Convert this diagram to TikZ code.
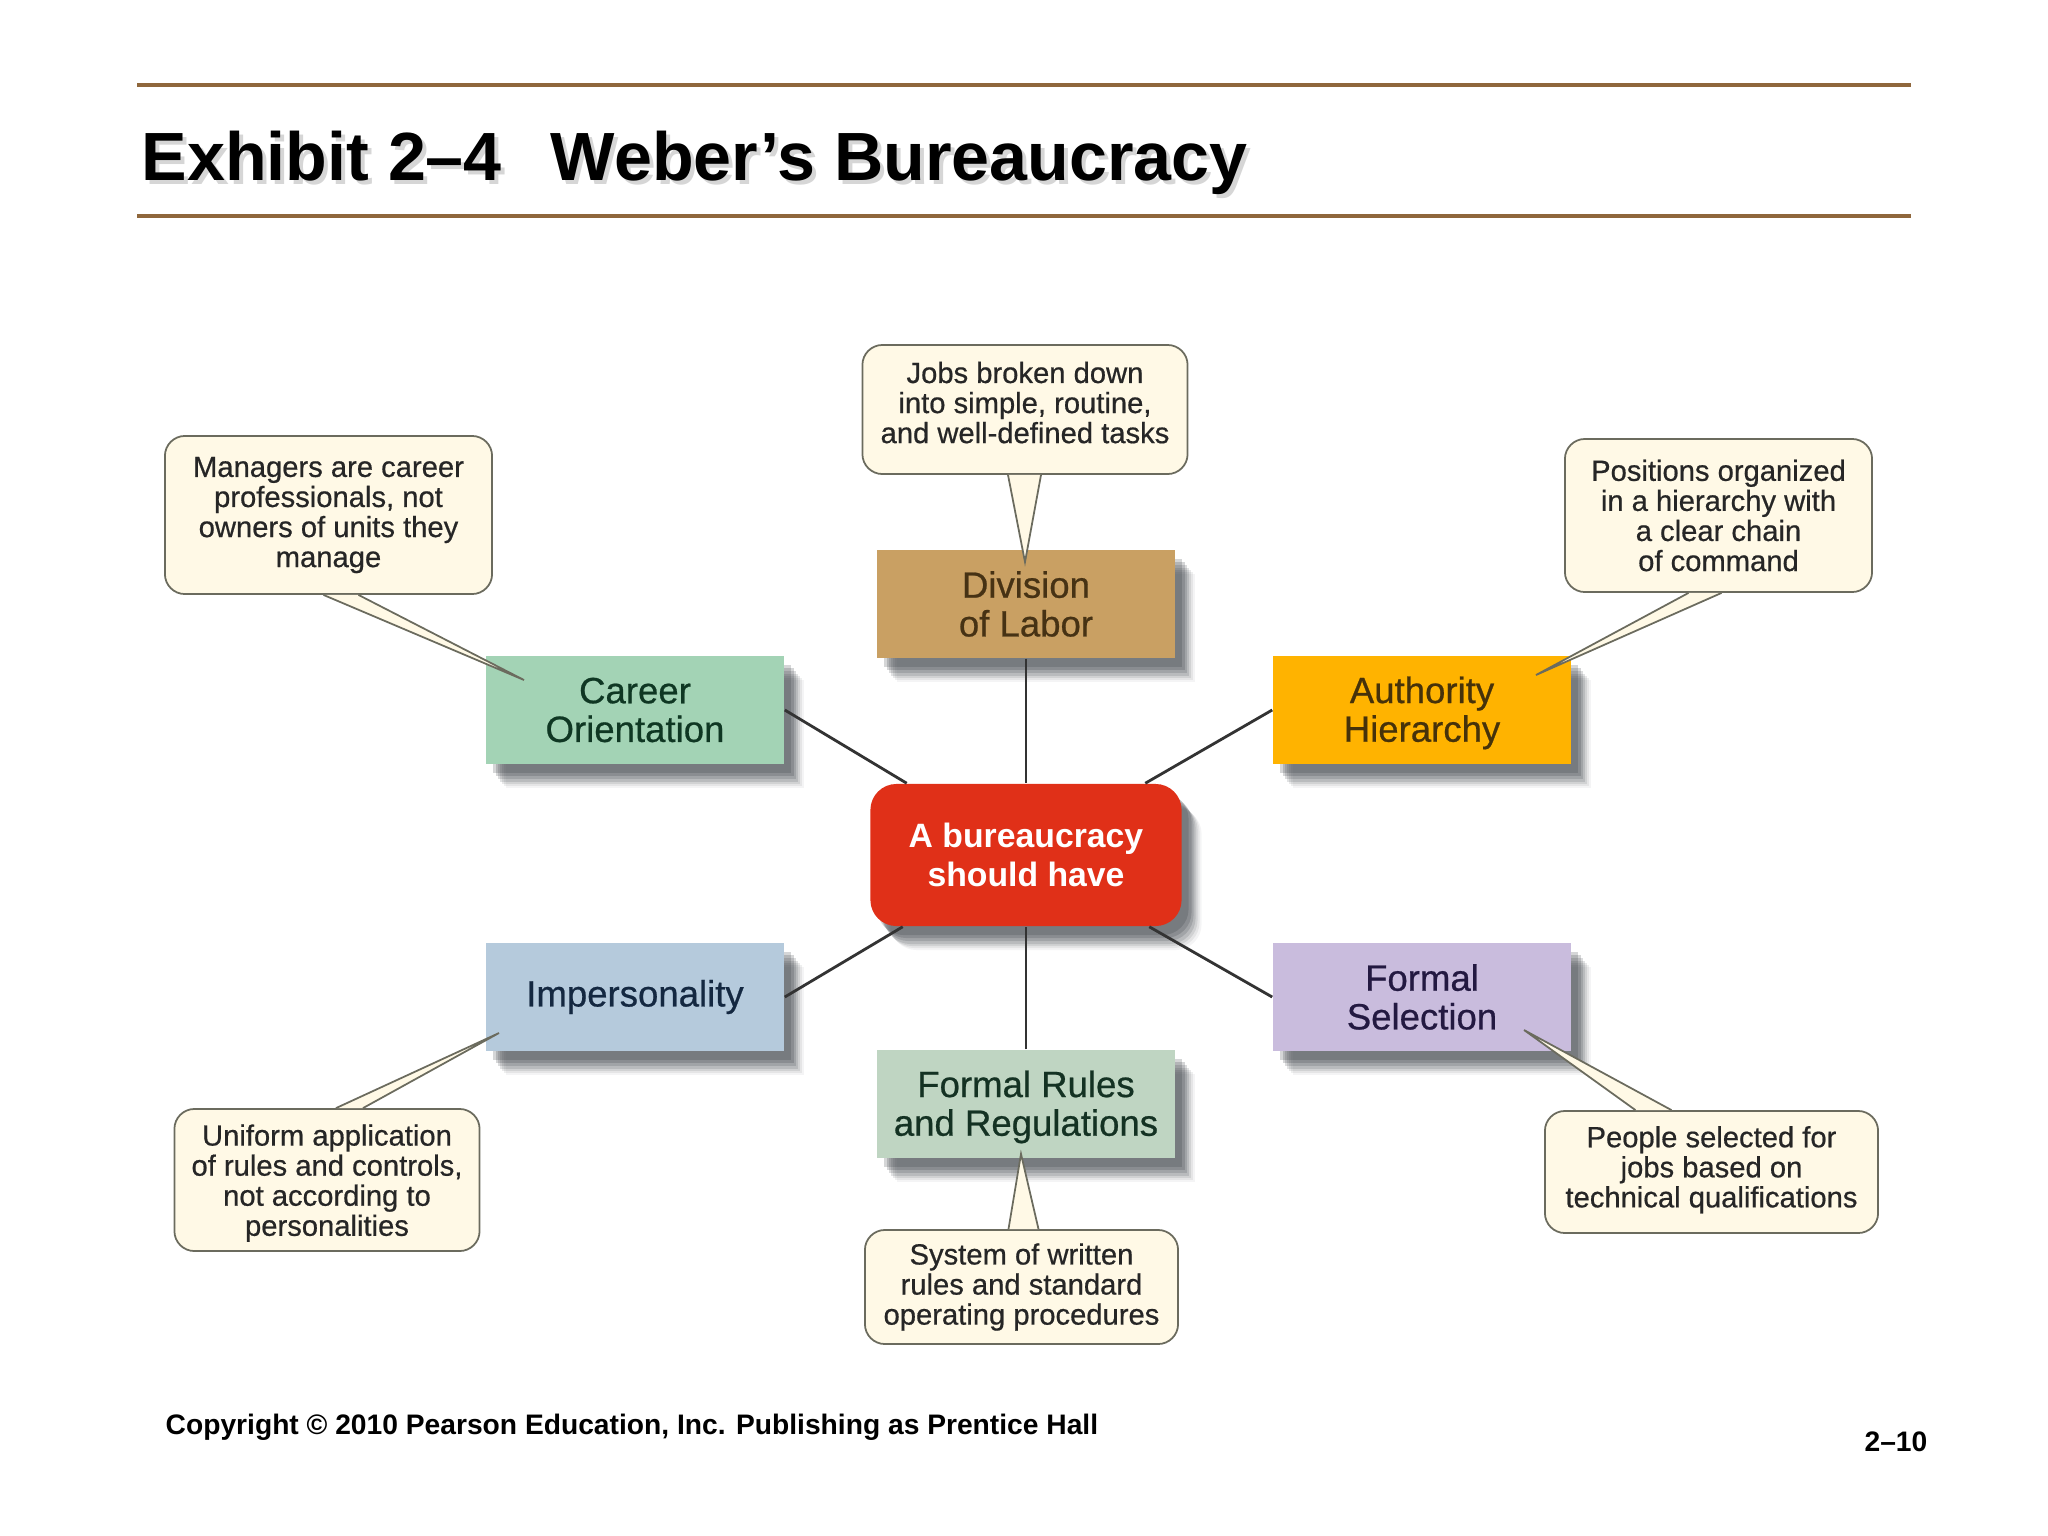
\documentclass[tikz,border=0pt]{standalone}
\usepackage{xcolor}
\usepackage{fontspec}
\setmainfont{Liberation Sans}
\newfontfamily\heavyfont[FakeBold=.6]{Liberation Sans}
\usepackage{tikz}
\usetikzlibrary{shadows}

\definecolor{rulebrown}{HTML}{8F673C}
\definecolor{creamfill}{HTML}{FFF9E6}
\definecolor{tailgrey}{HTML}{6B6B5E}
\definecolor{shadeblue}{HTML}{2C3138}
\newcommand{\liftup}[1]{\rule[-#1]{0pt}{#1}}
\newcommand{\dropdown}[1]{\rule{0pt}{#1}}

\begin{document}
\begin{tikzpicture}[x=.01cm, y=-.01cm]
        \tikzset{
            softshadow/.style={
                drop shadow={shadow xshift=.20cm, shadow yshift=-.24cm, opacity=.05, fill=shadeblue},
                drop shadow={shadow xshift=.18cm, shadow yshift=-.22cm, opacity=.08, fill=shadeblue},
                drop shadow={shadow xshift=.16cm, shadow yshift=-.20cm, opacity=.11, fill=shadeblue},
                drop shadow={shadow xshift=.14cm, shadow yshift=-.18cm, opacity=.14, fill=shadeblue},
                drop shadow={shadow xshift=.12cm, shadow yshift=-.15cm, opacity=.17, fill=shadeblue},
                drop shadow={shadow xshift=.10cm, shadow yshift=-.12cm, opacity=.2, fill=shadeblue},
                drop shadow={shadow xshift=.07cm, shadow yshift=-.09cm, opacity=.2, fill=shadeblue},
            },
            topicbox/.style={
                softshadow,
                minimum width=2.98cm,
                minimum height=1.08cm,
                inner sep=0pt,
                align=center,
                font=\heavyfont\fontsize{10.4pt}{11pt}\selectfont,
            },
            callout/.style={
                draw=tailgrey,
                fill=creamfill,
                line width=.5pt,
                rounded corners=.2cm,
                inner sep=0pt,
                align=center,
                text=black!85,
                font=\heavyfont\fontsize{8.3pt}{8.55pt}\selectfont,
            },
            calltail/.style={draw=tailgrey, fill=creamfill, line width=.5pt},
            spoke/.style={draw=black!80, line width=.8pt},
            headrule/.style={draw=rulebrown, line width=.04cm},
        }
        \useasboundingbox (0, 0) rectangle (2048, 1536);

        % title block
        \draw[headrule] (137, 85) coordinate (ruleaL) -- (1911, 85) coordinate (ruleaR);
        \draw[headrule] (137, 216) coordinate (rulebL) -- (1911, 216) coordinate (rulebR);
        \node[anchor=base west, inner sep=0pt, text=black!16, font=\fontsize{19.4pt}{22pt}\bfseries] (titleshade) at (145, 184) {Exhibit 2--4\hspace{.72em}Weber’s Bureaucracy};
        \node[anchor=base west, inner sep=0pt, font=\fontsize{19.4pt}{22pt}\bfseries] (title) at (141, 180) {Exhibit 2--4\hspace{.72em}Weber’s Bureaucracy};

        % boxes
        \node[topicbox, fill={rgb,255:red,201;green,160;blue,99}, text={rgb,255:red,70;green,50;blue,20}] (labor) at (1026, 604) {Division\\of Labor};
        \node[topicbox, fill={rgb,255:red,163;green,211;blue,181}, text={rgb,255:red,15;green,55;blue,35}] (career) at (635, 710) {Career\\Orientation};
        \node[topicbox, fill={rgb,255:red,255;green,179;blue,0}, text={rgb,255:red,70;green,50;blue,10}] (authority) at (1422, 710) {\dropdown{9.2pt}Authority\\Hierarchy};
        \node[topicbox, fill={rgb,255:red,181;green,202;blue,220}, text={rgb,255:red,20;green,40;blue,65}] (imperson) at (635, 997) {Impersonality};
        \node[topicbox, fill={rgb,255:red,201;green,188;blue,221}, text={rgb,255:red,35;green,25;blue,65}] (selection) at (1422, 997) {Formal\\Selection};
        \node[topicbox, fill={rgb,255:red,191;green,213;blue,194}, text={rgb,255:red,20;green,50;blue,35}] (rules) at (1026, 1104) {\dropdown{9.2pt}Formal Rules\\and Regulations};
        \node[topicbox, minimum width=3.11cm, minimum height=1.42cm, rounded corners=.26cm, fill={rgb,255:red,224;green,48;blue,24}, text=white, font=\fontsize{9.6pt}{11pt}\bfseries] (center) at (1026, 855) {A bureaucracy\\should have};

        % spokes
        \draw[spoke] (labor.south) -- (center.north);
        \draw[spoke] (rules.north) -- (center.south);
        \draw[spoke] (career.east) -- ([xshift=.37cm]center.north west);
        \draw[spoke] (authority.west) -- ([xshift=-.37cm]center.north east);
        \draw[spoke] (imperson.east) -- ([xshift=.33cm]center.south west);
        \draw[spoke] (selection.west) -- ([xshift=-.33cm]center.south east);

        % callouts
        \node[callout, minimum width=3.25cm, minimum height=1.29cm] (calllabor) at (1025, 409.5) {Jobs broken down\\into simple, routine,\\\liftup{4pt}and well-defined tasks};
        \node[callout, minimum width=3.27cm, minimum height=1.58cm] (callcareer) at (328.5, 515) {Managers are career\\professionals, not\\owners of units they\\manage};
        \node[callout, minimum width=3.07cm, minimum height=1.53cm] (callauthority) at (1718.5, 515.5) {Positions organized\\in a hierarchy with\\a clear chain\\of command};
        \node[callout, minimum width=3.05cm, minimum height=1.42cm] (callimperson) at (327, 1180) {\dropdown{7.8pt}Uniform application\\of rules and controls,\\not according to\\personalities};
        \node[callout, minimum width=3.33cm, minimum height=1.22cm] (callselection) at (1711.5, 1172) {People selected for\\jobs based on\\\liftup{3pt}technical qualifications};
        \node[callout, minimum width=3.13cm, minimum height=1.14cm] (callrules) at (1021.5, 1287) {System of written\\rules and standard\\operating procedures};

        % tails
        \coordinate (tiplabor) at (1025, 562);
        \coordinate (tipcareer) at (524, 680);
        \coordinate (tipauthority) at (1536, 675);
        \coordinate (tipimperson) at (499, 1033);
        \coordinate (tipselection) at (1524, 1030);
        \coordinate (tiprules) at (1021, 1154);
        \draw[calltail] ([xshift=-.17cm]calllabor.south) -- (tiplabor) -- ([xshift=.16cm]calllabor.south);
        \draw[calltail] ([xshift=-.05cm]callcareer.south) -- (tipcareer) -- ([xshift=.30cm]callcareer.south);
        \draw[calltail] ([xshift=-.30cm]callauthority.south) -- (tipauthority) -- ([xshift=.03cm]callauthority.south);
        \draw[calltail] ([xshift=.09cm]callimperson.north) -- (tipimperson) -- ([xshift=.36cm]callimperson.north);
        \draw[calltail] ([xshift=-.76cm]callselection.north) -- (tipselection) -- ([xshift=-.40cm]callselection.north);
        \draw[calltail] ([xshift=-.13cm]callrules.north) -- (tiprules) -- ([xshift=.17cm]callrules.north);

        % footer
        \node[anchor=base west, inner sep=0pt, font=\fontsize{8.02pt}{10pt}\bfseries] (copyright) at (165, 1434) {Copyright © 2010 Pearson Education, Inc. Publishing as Prentice Hall};
        \node[anchor=base east, inner sep=0pt, font=\fontsize{8.02pt}{10pt}\bfseries] (pagenum) at (1928, 1451) {2--10};
    \end{tikzpicture}
\end{document}
